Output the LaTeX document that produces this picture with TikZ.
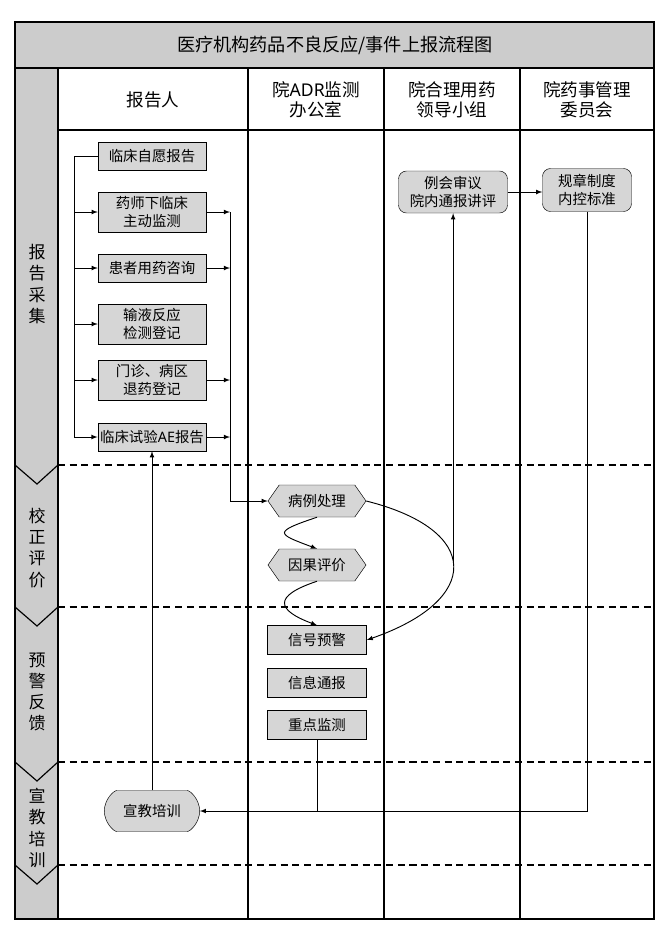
\documentclass[tikz,border=0pt]{standalone}
\usepackage{fontspec}
\setmainfont{Noto Sans CJK SC}
\newfontfamily\latinfont{Noto Sans}
\usetikzlibrary{shapes.misc,shapes.symbols,positioning}
\definecolor{boxgray}{gray}{0.84}
\definecolor{lanegray}{gray}{0.80}
\tikzset{arrow/.style={->, >=latex, line width=0.8pt}}
\tikzset{line/.style={line width=0.8pt}}
\tikzset{frame/.style={line width=1pt}}
\tikzset{phase/.style={line width=1.3pt, dash pattern=on 6pt off 4pt}}
\tikzset{box/.style={draw, fill=boxgray, minimum width=3.24cm, minimum height=0.84cm, inner sep=2pt, align=center}}
\tikzset{tallbox/.style={box, minimum height=1.2cm}}
\tikzset{sigbox/.style={box, minimum width=2.97cm, minimum height=0.87cm}}
\tikzset{hexbox/.style={draw, fill=boxgray, signal, signal to=west and east, signal pointer angle=110, minimum width=2.94cm, minimum height=0.96cm, inner sep=2pt}}
\tikzset{roundbox/.style={draw, fill=boxgray, rounded corners=0.24cm, align=center, inner sep=2pt}}
\tikzset{head/.style={align=center, font=\fontsize{15}{17}\selectfont}}
\tikzset{lane/.style={align=center, font=\fontsize{14.5}{18}\selectfont}}

\begin{document}
\begin{tikzpicture}[x=0.03cm, y=-0.03cm, font=\fontsize{12.3}{15.5}\selectfont]
      \useasboundingbox (0,0) rectangle (669,938);

      % frame and lanes
      \fill[lanegray] (15,22) rectangle (654,68);
      \fill[lanegray] (15,68) rectangle (58,919);
      \draw[frame] (15,68) -- (654,68);
      \draw[frame] (58,130) -- (654,130);
      \foreach \x in {58,248,384,520}
        \draw[frame] (\x,68) -- (\x,919);
      \foreach \y in {465,607,762,865} {
        \draw[phase] (58,\y) -- (654,\y);
        \draw[frame] (15,\y) -- (37,{\y+19}) -- (58,\y);
      }
      \draw[line width=1.3pt] (15,22) rectangle (654,919);

      \node (ttl) at (335,45) {\fontsize{15.5}{18}\selectfont 医疗机构药品不良反应/事件上报流程图};
      \node[head] (h1) at (153,100) {报告人};
      \node[head] (h2) at (316,100) {院{\latinfont ADR}监测\\办公室};
      \node[head] (h3) at (452,100) {院合理用药\\领导小组};
      \node[head] (h4) at (587,100) {院药事管理\\委员会};

      \node[lane] (l1) at (37,284) {报\\告\\采\\集};
      \node[lane] (l2) at (37,548) {校\\正\\评\\价};
      \node[lane] (l3) at (37,692) {预\\警\\反\\馈};
      \node[lane] (l4) at (37,828) {宣\\教\\培\\训};

      % reporters
      \node[box] (b1) at (152,156) {临床自愿报告};
      \node[tallbox] (b2) at (152,212) {药师下临床\\主动监测};
      \node[box] (b3) at (152,268) {患者用药咨询};
      \node[tallbox] (b4) at (152,324) {输液反应\\检测登记};
      \node[tallbox] (b5) at (152,380) {门诊、病区\\退药登记};
      \node[box] (b6) at (152,437) {临床试验{\latinfont AE}报告};
      \node[roundbox, rounded rectangle, minimum width=3cm, minimum height=1.23cm] (xj) at (152,811) {宣教培训};

      % ADR office
      \node[hexbox] (bl) at (317,501) {病例处理};
      \node[hexbox] (yg) at (317,565) {因果评价};
      \node[sigbox] (xh) at (317,640) {信号预警};
      \node[sigbox] (tb) at (317,683) {信息通报};
      \node[sigbox] (zd) at (317,725) {重点监测};

      % groups
      \node[roundbox, minimum width=3.27cm, minimum height=1.26cm] (lh) at (453,192) {例会审议\\院内通报讲评};
      \node[roundbox, minimum width=2.67cm, minimum height=1.29cm] (gz) at (587,190) {规章制度\\内控标准};

      % collection buses
      \coordinate (lbus) at (74,437);
      \coordinate (rbus) at (230,212);
      \draw[line] (b1.west) -| (lbus);
      \foreach \n in {b2,b3,b4,b5,b6}
        \draw[arrow] (\n.west -| lbus) -- (\n.west);
      \foreach \n in {b2,b3,b5,b6}
        \draw[arrow] (\n.east) -- (\n.east -| rbus);
      \draw[arrow] (rbus) |- (bl.west);

      \draw[arrow] (bl.south) .. controls +(-45,15) and +(-40,-15) .. (yg.north);
      \draw[arrow] (yg.south) .. controls +(-45,15) and +(-40,-15) .. (xh.north);
      \draw[arrow] (bl.east) .. controls (482,530) and (482,600) .. (xh.east) coordinate[pos=0.5] (apex);
      \draw[arrow] (apex) -- (apex |- lh.south);
      \draw[arrow] (lh.east) -- (lh.east -| gz.west);

      \draw[arrow] (gz.south) |- (xj.east);
      \draw[line] (zd.south) -- (zd.south |- xj.east);
      \draw[arrow] (xj.north) -- (b6.south);
    \end{tikzpicture}
\end{document}
